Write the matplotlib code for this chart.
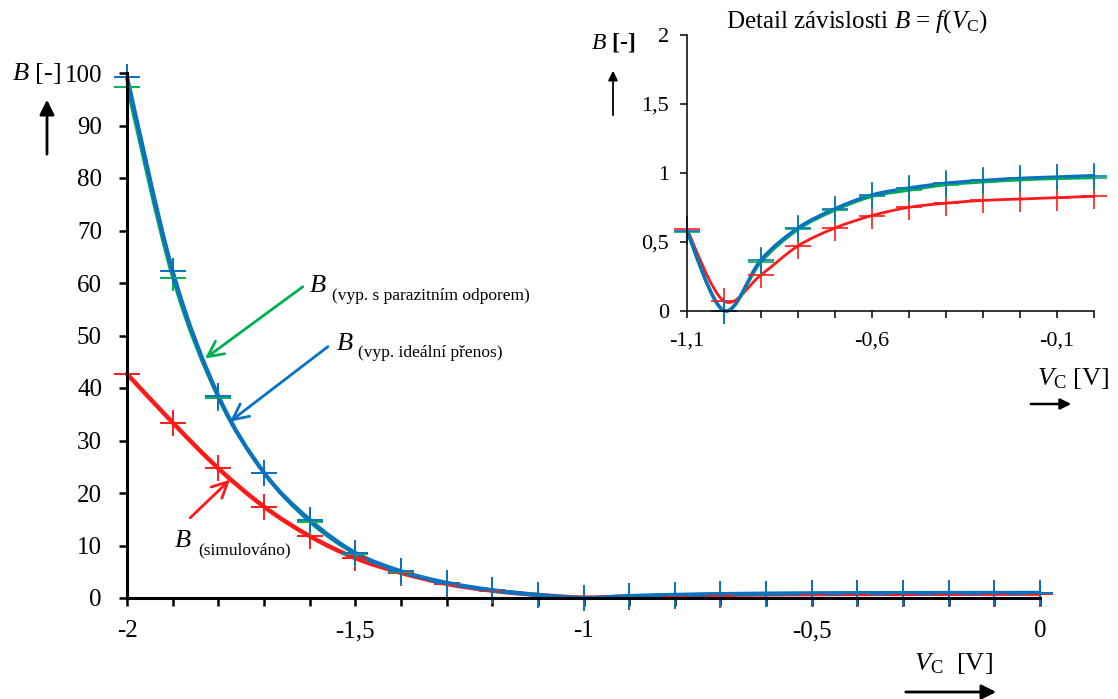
import numpy as np
import matplotlib
matplotlib.use('Agg')
import matplotlib.pyplot as plt
from matplotlib.path import Path
from matplotlib.patches import PathPatch
from matplotlib.ticker import MultipleLocator, FuncFormatter

plt.rcParams['font.family'] = 'Liberation Serif'
plt.rcParams['mathtext.fontset'] = 'custom'
plt.rcParams['mathtext.rm'] = 'Liberation Serif'
plt.rcParams['mathtext.it'] = 'Liberation Serif:italic'

# data
vc = [-2.0, -1.9, -1.8, -1.7, -1.6, -1.5, -1.4, -1.3, -1.2, -1.1, -1.0,
      -0.9, -0.8, -0.7, -0.6, -0.5, -0.4, -0.3, -0.2, -0.1, 0.0]
b_sim = [42.7, 33.4, 24.7, 17.4, 11.8, 7.6, 4.8, 2.7, 1.4, 0.59, 0.07,
         0.26, 0.47, 0.60, 0.69, 0.75, 0.78, 0.80, 0.81, 0.82, 0.83]
b_par = [97.4, 61.0, 38.1, 23.8, 14.5, 8.4, 5.0, 2.8, 1.5, 0.57, 0.0,
         0.355, 0.59, 0.73, 0.83, 0.875, 0.915, 0.935, 0.95, 0.96, 0.965]
b_ideal = [99.2, 62.2, 38.5, 23.9, 14.9, 8.6, 5.1, 2.9, 1.5, 0.58, 0.0,
           0.37, 0.60, 0.74, 0.84, 0.89, 0.925, 0.945, 0.96, 0.97, 0.98]

RED = '#ff1a1a'
GREEN = '#00b050'
BLUE = '#0a72c0'

W, H = 1118, 699


def smooth(x, y):
    # excel-like smoothed line as bezier path
    p = np.column_stack([x, y])
    ext = np.vstack([p[0], p, p[-1]])
    verts = [p[0]]
    codes = [Path.MOVETO]
    for i in range(len(p) - 1):
        c1 = p[i] + (ext[i + 2] - ext[i]) / 6
        c2 = p[i + 1] - (ext[i + 3] - ext[i + 1]) / 6
        verts += [c1, c2, p[i + 1]]
        codes += [Path.CURVE4] * 3
    return Path(verts, codes)


def draw_series(a, x, y, color, lw, ms, mew):
    a.add_patch(PathPatch(smooth(x, y), fill=False, edgecolor=color, lw=lw,
                          capstyle='round', joinstyle='round', clip_on=False))
    a.plot(x, y, '+', color=color, ms=ms, mew=mew, clip_on=False)


def comma(v, pos):
    s = ('%g' % round(v, 2)).replace('.', ',')
    return s


def ftext(px, py, s, **kw):
    fig.text(px / W, 1 - py / H, s, **kw)


def farrow(x0, y0, x1, y1, lw=2, ms=20):
    fig.add_artist(matplotlib.patches.FancyArrowPatch(
        (x0 / W, 1 - y0 / H), (x1 / W, 1 - y1 / H), transform=fig.transFigure,
        arrowstyle='-|>', color='black', lw=lw, mutation_scale=ms))


fig = plt.figure(figsize=(W / 100, H / 100), dpi=100)

# main chart
ax = fig.add_axes([127 / W, 1 - 598 / H, (1040 - 127) / W, (598 - 73) / H])
ax.set_xlim(-2, 0)
ax.set_ylim(0, 100)
draw_series(ax, vc, b_sim, RED, 3.2, 19, 1.4)
draw_series(ax, vc, b_par, GREEN, 2.2, 19, 1.4)
draw_series(ax, vc, b_ideal, BLUE, 3.0, 19, 1.4)
for s in ['top', 'right']:
    ax.spines[s].set_visible(False)
for s in ['left', 'bottom']:
    ax.spines[s].set_linewidth(2.2)
ax.xaxis.set_major_locator(MultipleLocator(0.5))
ax.xaxis.set_minor_locator(MultipleLocator(0.1))
ax.yaxis.set_major_locator(MultipleLocator(10))
ax.xaxis.set_major_formatter(FuncFormatter(comma))
ax.tick_params(which='both', direction='out', length=6, width=1.8, labelsize=18, pad=12)
ax.tick_params(axis='x', pad=10)

ax.annotate('', xy=(-1.834, 45.3), xytext=(-1.61, 59.6),
            arrowprops=dict(arrowstyle='->', color=GREEN, lw=2, mutation_scale=28))
ax.annotate('', xy=(-1.779, 33.3), xytext=(-1.555, 48.2),
            arrowprops=dict(arrowstyle='->', color=BLUE, lw=2, mutation_scale=28))
ax.annotate('', xy=(-1.77, 22.9), xytext=(-1.866, 14.9),
            arrowprops=dict(arrowstyle='->', color=RED, lw=2, mutation_scale=28))

ftext(309, 286, '$B$', fontsize=19, va='center')
ftext(332, 296, '(vyp. s parazitním odporem)', fontsize=12.5, va='center')
ftext(336, 344, '$B$', fontsize=19, va='center')
ftext(358, 353, '(vyp. ideální přenos)', fontsize=12.5, va='center')
ftext(174, 541, '$B$', fontsize=19, va='center')
ftext(198, 550, '(simulováno)', fontsize=12.5, va='center')

ftext(12, 73, '$B$ [-]', fontsize=19, va='center')
farrow(47, 157, 47, 97, lw=2, ms=22)
ftext(914, 664, r'$V_\mathrm{C}$  [V]', fontsize=19, va='center')
farrow(903, 692, 999, 692, lw=2, ms=22)

# inset detail
ins = fig.add_axes([687 / W, 1 - 310.7 / H, (1094 - 687) / W, (310.7 - 35) / H])
ins.set_facecolor('white')
sel = slice(9, None)
ins.set_xlim(-1.1, 0)
ins.set_ylim(0, 2)
draw_series(ins, vc[sel], b_sim[sel], RED, 2.0, 19, 1.2)
draw_series(ins, vc[sel], b_par[sel], GREEN, 2.4, 19, 1.2)
draw_series(ins, vc[sel], b_ideal[sel], BLUE, 2.4, 19, 1.2)
for s in ['top', 'right']:
    ins.spines[s].set_visible(False)
for s in ['left', 'bottom']:
    ins.spines[s].set_linewidth(1.1)
ins.set_xticks([-1.1, -0.6, -0.1])
ins.xaxis.set_minor_locator(MultipleLocator(0.1))
ins.yaxis.set_major_locator(MultipleLocator(0.5))
ins.xaxis.set_major_formatter(FuncFormatter(comma))
ins.yaxis.set_major_formatter(FuncFormatter(comma))
ins.tick_params(which='both', direction='out', length=5, width=1.1, labelsize=16, pad=8)
ins.tick_params(axis='x', pad=10)

ftext(857, 22, r'Detail závislosti $B$ = $f$($V_\mathrm{C}$)', fontsize=18,
      ha='center', va='center')
ftext(591, 43, '$B$ [-]', fontsize=17, va='center', fontweight='bold')
farrow(613, 118, 613, 68, lw=1.3, ms=14)
ftext(1037, 378, r'$V_\mathrm{C}$ [V]', fontsize=19, va='center')
farrow(1028, 404, 1074, 404, lw=1.8, ms=16)

fig.savefig('out.png', dpi=100)
